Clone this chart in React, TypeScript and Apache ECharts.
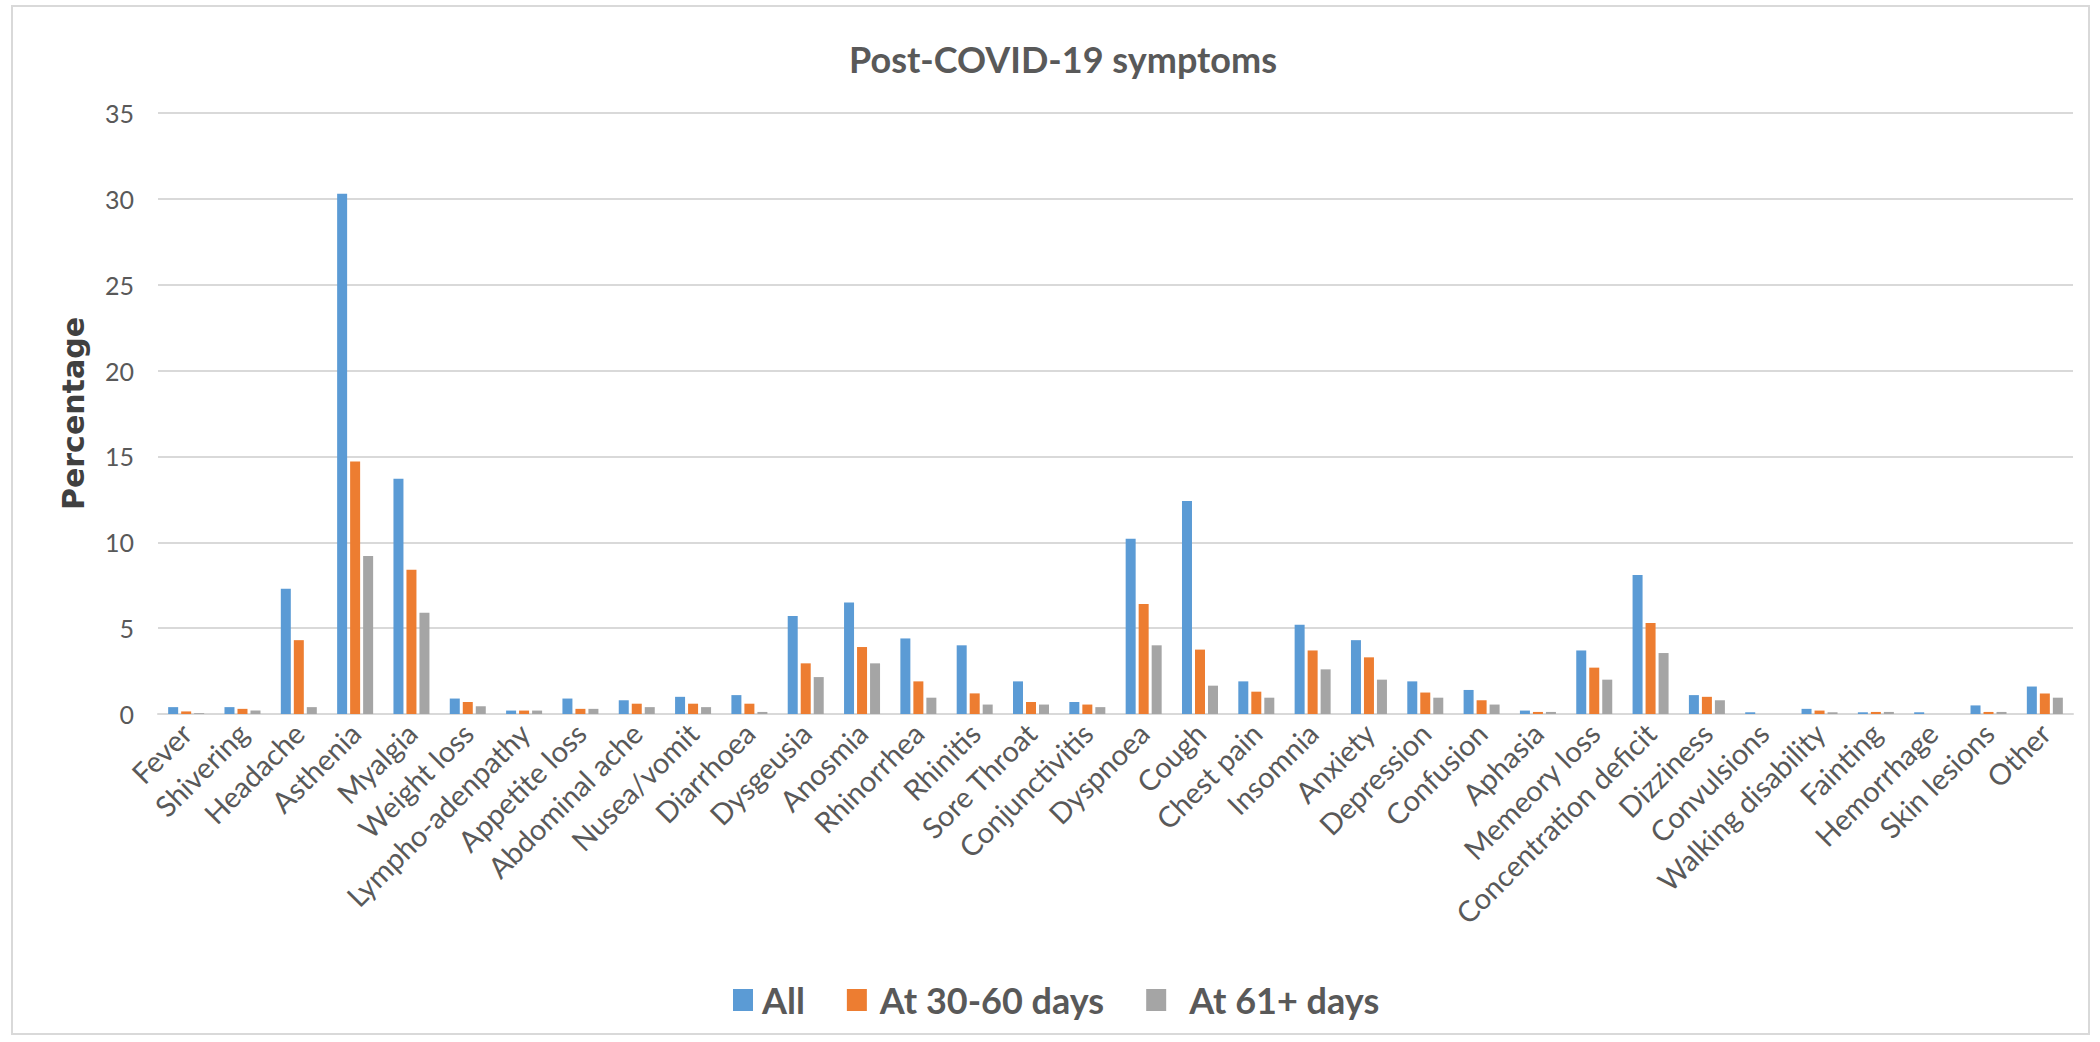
import React, { useEffect, useRef } from "react";
import * as echarts from "echarts";

const categories = [
  "Fever", "Shivering", "Headache", "Asthenia", "Myalgia", "Weight loss",
  "Lympho-adenpathy", "Appetite loss", "Abdominal ache", "Nusea/vomit",
  "Diarrhoea", "Dysgeusia", "Anosmia", "Rhinorrhea", "Rhinitis", "Sore Throat",
  "Conjunctivitis", "Dyspnoea", "Cough", "Chest pain", "Insomnia", "Anxiety",
  "Depression", "Confusion", "Aphasia", "Memeory loss", "Concentration deficit",
  "Dizziness", "Convulsions", "Walking disability", "Fainting", "Hemorrhage",
  "Skin lesions", "Other",
];

const allValues = [
  0.4, 0.4, 7.3, 30.3, 13.7, 0.9, 0.2, 0.9, 0.8, 1.0, 1.1, 5.7, 6.5, 4.4, 4.0,
  1.9, 0.7, 10.2, 12.4, 1.9, 5.2, 4.3, 1.9, 1.4, 0.2, 3.7, 8.1, 1.1, 0.1, 0.3,
  0.1, 0.1, 0.5, 1.6,
];

const days30to60 = [
  0.15, 0.3, 4.3, 14.7, 8.4, 0.7, 0.2, 0.3, 0.6, 0.6, 0.6, 2.95, 3.9, 1.9, 1.2,
  0.7, 0.55, 6.4, 3.75, 1.3, 3.7, 3.3, 1.25, 0.8, 0.12, 2.7, 5.3, 1.0, 0, 0.2,
  0.12, 0, 0.12, 1.2,
];

const days61plus = [
  0.05, 0.2, 0.4, 9.2, 5.9, 0.45, 0.2, 0.3, 0.4, 0.4, 0.12, 2.15, 2.95, 0.95,
  0.55, 0.55, 0.4, 4.0, 1.65, 0.95, 2.6, 2.0, 0.95, 0.55, 0.12, 2.0, 3.55, 0.8,
  0, 0.1, 0.12, 0, 0.12, 0.95,
];

const seriesNames = ["All", "At 30-60 days", "At 61+ days"];
const colors = ["#5B9BD5", "#ED7D31", "#A5A5A5"];
const yTicks = { min: 0, max: 35, interval: 5 };

export default function App() {
  const ref = useRef<HTMLDivElement>(null);
  useEffect(() => {
    if (!ref.current) return;
    const chart = echarts.init(ref.current, null, { renderer: "svg" });
    const data = [allValues, days30to60, days61plus];
    const legendPad = [4, 8, 18];
    chart.setOption({
      animation: false,
      backgroundColor: "#ffffff",
      title: {
        text: "Post-COVID-19 symptoms",
        left: 1058,
        top: 36,
        textAlign: "center",
        textStyle: {
          fontFamily: "Lato",
          fontWeight: "bold",
          fontSize: 36,
          color: "#595959",
        },
      },
      graphic: [
        {
          type: "rect",
          shape: { x: 12, y: 6, width: 2077, height: 1028 },
          style: { fill: "none", stroke: "#D9D9D9", lineWidth: 2 },
          silent: true,
        },
      ],
      legend: {
        data: seriesNames.map((name, i) => ({
          name,
          textStyle: { padding: [0, 0, 0, legendPad[i]] },
        })),
        left: 728,
        top: 977,
        icon: "rect",
        itemWidth: 20,
        itemHeight: 22,
        itemGap: 42,
        textStyle: {
          fontFamily: "Lato",
          fontWeight: "bold",
          fontSize: 36,
          color: "#595959",
        },
      },
      grid: { left: 158, right: 27, top: 113, bottom: 328, containLabel: false },
      xAxis: {
        type: "category",
        data: categories,
        axisLine: { show: true, lineStyle: { color: "#D9D9D9", width: 2 } },
        axisTick: { show: false },
        axisLabel: {
          interval: 0,
          rotate: 45,
          fontFamily: "Lato",
          fontSize: 29,
          color: "#595959",
          margin: 14,
        },
      },
      yAxis: {
        type: "value",
        min: yTicks.min,
        max: yTicks.max,
        interval: yTicks.interval,
        name: "Percentage",
        nameLocation: "middle",
        nameGap: 70,
        nameTextStyle: {
          fontFamily: "DejaVu Sans",
          fontWeight: "bold",
          fontSize: 30,
          color: "#404040",
        },
        axisLine: { show: false },
        axisTick: { show: false },
        axisLabel: {
          fontFamily: "Lato",
          fontSize: 25,
          color: "#595959",
          margin: 24,
        },
        splitLine: { lineStyle: { color: "#D9D9D9", width: 2 } },
      },
      series: seriesNames.map((name, i) => ({
        name,
        type: "bar",
        data: data[i],
        barWidth: 10,
        barGap: "30%",
        itemStyle: { color: colors[i] },
      })),
    });
    return () => chart.dispose();
  }, []);
  return (
    <div
      ref={ref}
      style={{ position: "fixed", left: 0, top: 0, width: 2100, height: 1042 }}
    />
  );
}
